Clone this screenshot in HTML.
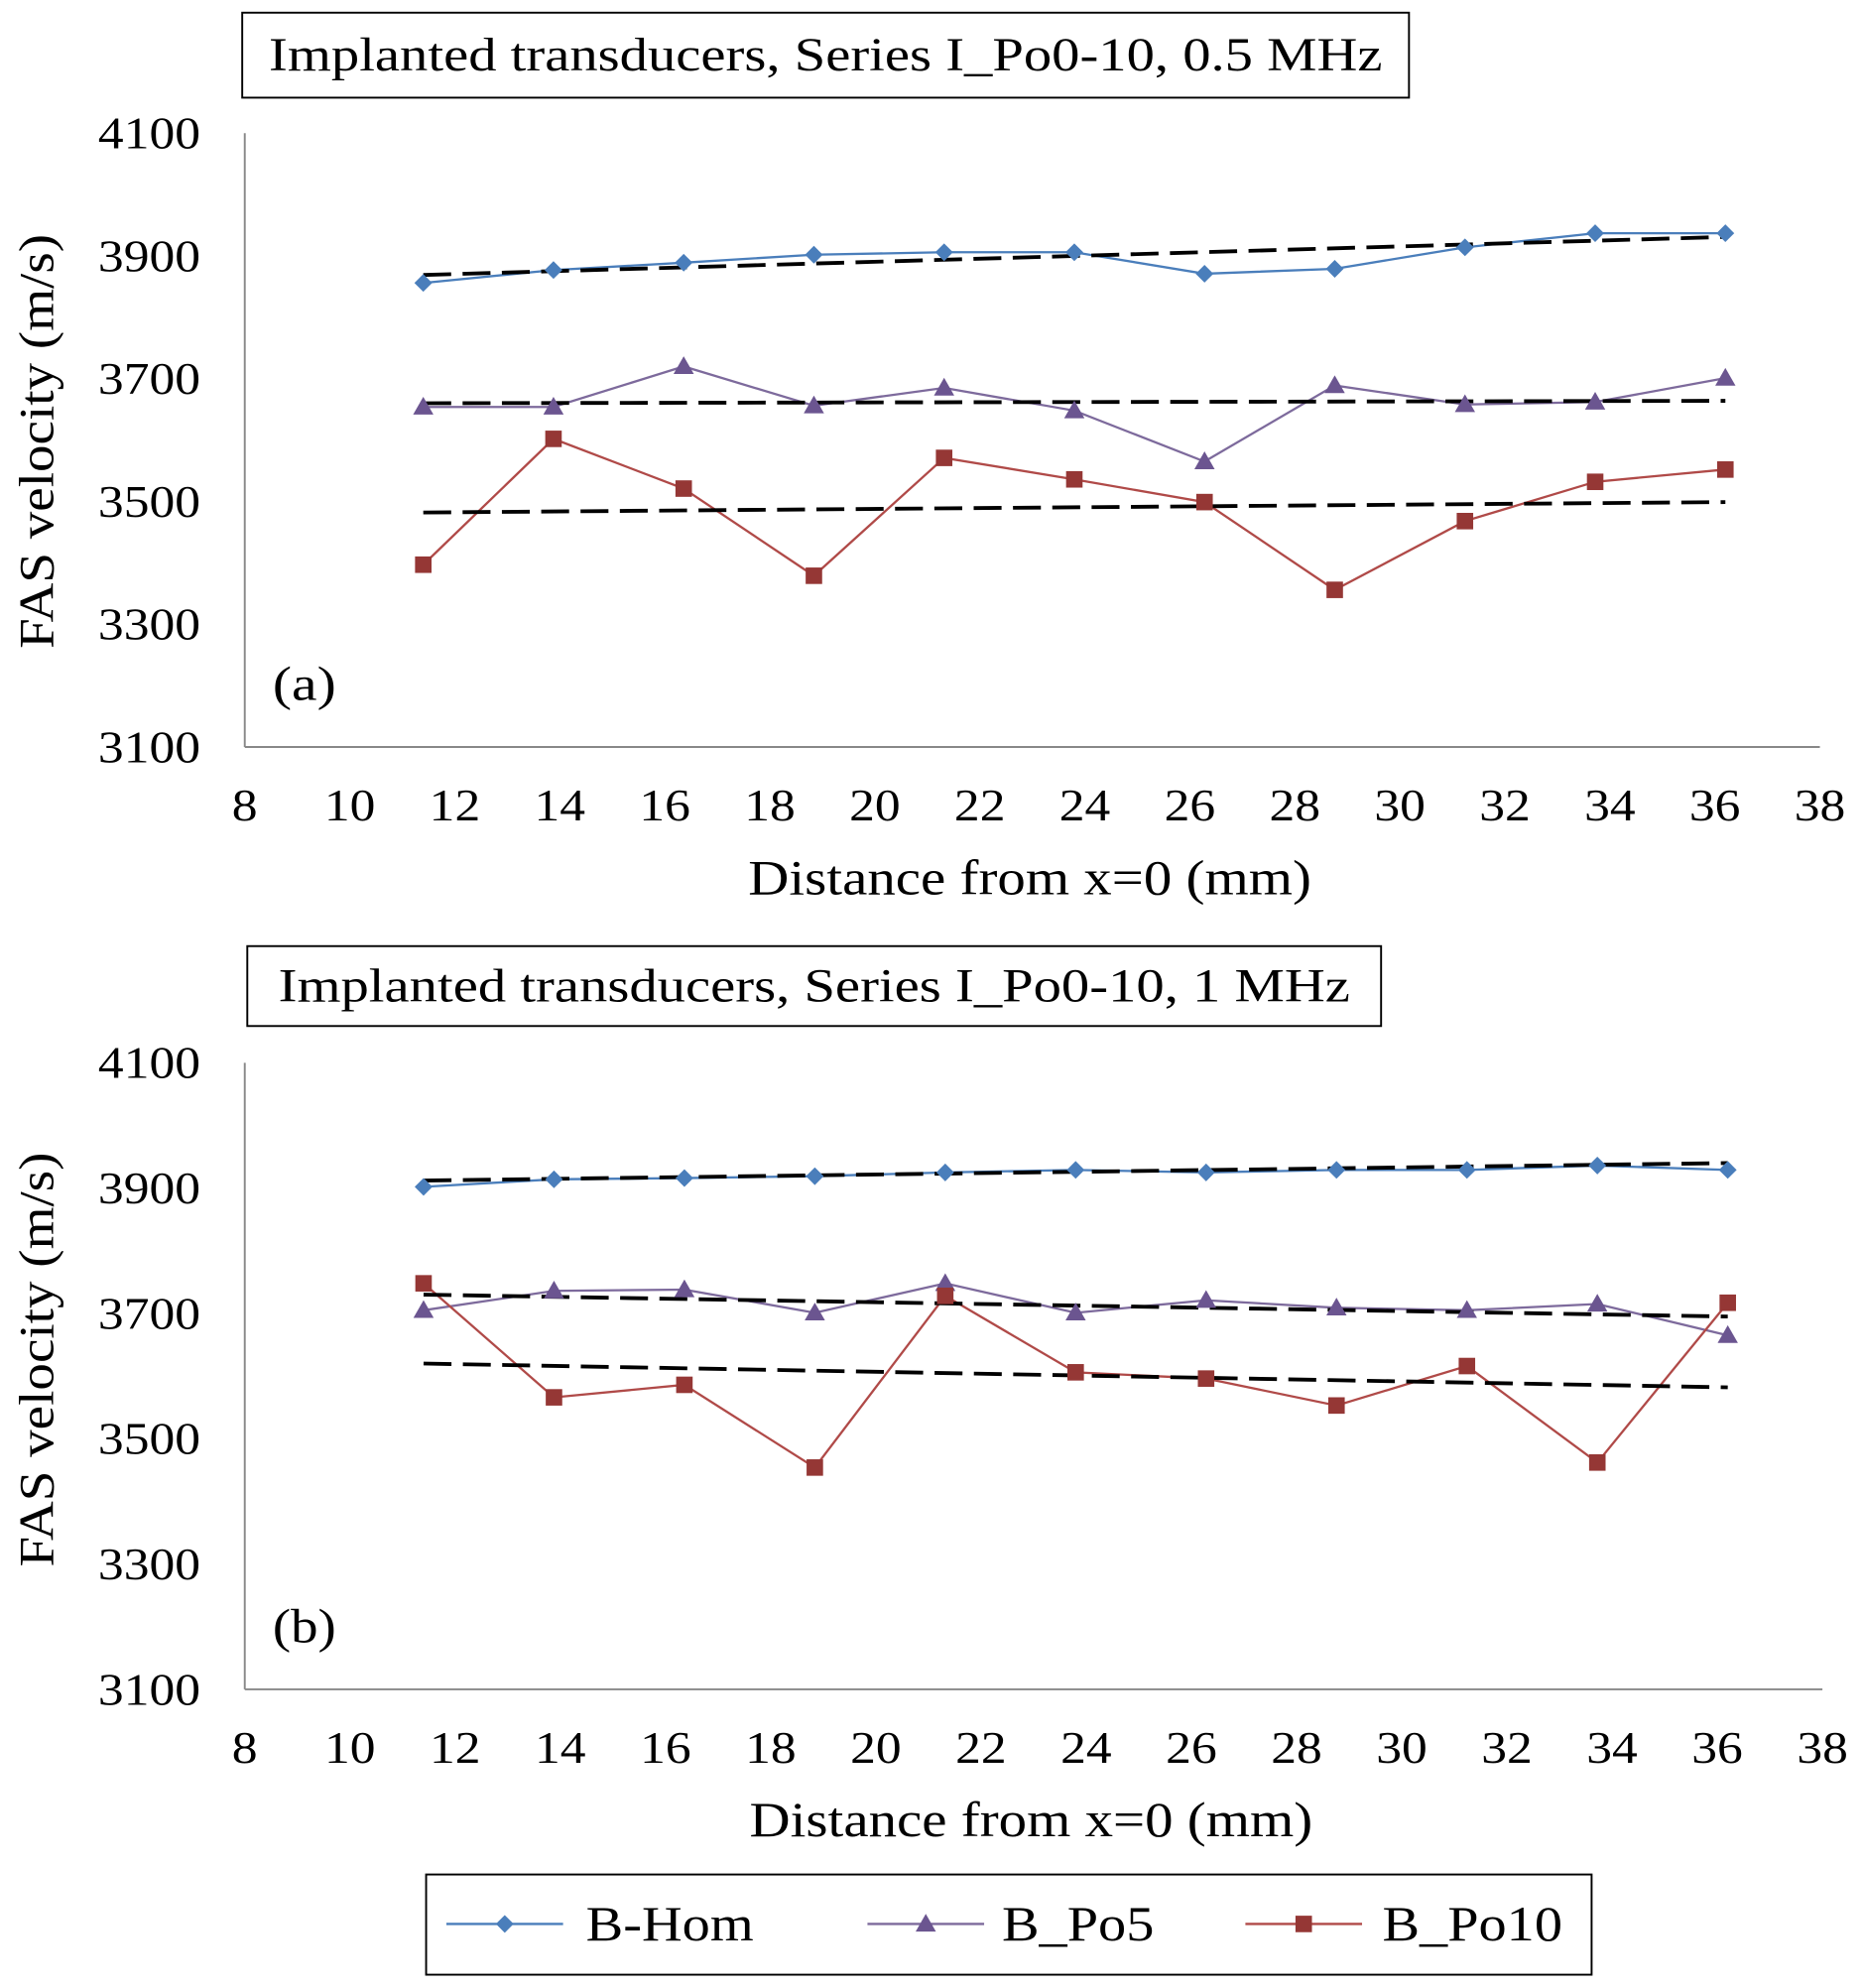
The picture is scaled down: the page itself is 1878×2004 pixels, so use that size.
<!DOCTYPE html>
<html><head><meta charset="utf-8"><style>
html,body{margin:0;padding:0;background:#fff;}
svg{display:block;font-family:"Liberation Serif",serif;}
</style></head><body>
<svg id="chart" width="1878" height="2004" viewBox="0 0 1469 1567.5" preserveAspectRatio="none" xmlns="http://www.w3.org/2000/svg"></svg>
<script>
const xPositions = [11.4,13.88,16.36,18.84,21.32,23.8,26.28,28.76,31.24,33.72,36.2];
const xTicks = [8,10,12,14,16,18,20,22,24,26,28,30,32,34,36,38];
const yTicks = [3100,3300,3500,3700,3900,4100];
const seriesNames = ["B-Hom","B_Po5","B_Po10"];
const aHom = [3856,3877,3889,3902,3906,3906,3871,3879,3914,3937,3937];
const aPo5 = [3654,3654,3720,3656,3685,3648,3565,3689,3658,3662,3701];
const aPo10 = [3397,3602,3521,3379,3571,3536,3499,3356,3468,3532,3552];
const aTrendHom = [3869,3931];
const aTrendPo5 = [3660,3664];
const aTrendPo10 = [3482,3499];
const bHom = [3902,3914,3916,3919,3925,3929,3925,3929,3929,3936,3929];
const bPo5 = [3705,3736,3738,3701,3748,3701,3721,3709,3705,3715,3665];
const bPo10 = [3748,3566,3586,3454,3728,3606,3596,3553,3616,3462,3717];
const bTrendHom = [3912,3940];
const bTrendPo5 = [3730,3695];
const bTrendPo10 = [3620,3582];

const NS="http://www.w3.org/2000/svg";
const svg=document.getElementById('chart');
function mk(tag,attrs,parent,text){const e=document.createElementNS(NS,tag);for(const k in attrs)e.setAttribute(k,attrs[k]);if(text!==undefined)e.textContent=text;(parent||svg).appendChild(e);return e;}
function stretch(e,f){const w=e.getComputedTextLength();e.setAttribute('textLength',(w*f).toFixed(1));e.setAttribute('lengthAdjust','spacingAndGlyphs');}
const colors={line:["#4a7ebb","#7d6a9c","#b04a48"],mark:["#4a7ebb","#6b5590","#953735"]};

function marker(g,kind,x,y){
  let m;
  if(kind===0){m=mk('polygon',{points:`${x},${y-7} ${x+7},${y} ${x},${y+7} ${x-7},${y}`,fill:colors.mark[0]},g);}
  else if(kind===1){m=mk('polygon',{points:`${x},${y-8} ${x+8},${y+6} ${x-8},${y+6}`,fill:colors.mark[1]},g);}
  else{m=mk('rect',{x:x-6.5,y:y-6.5,width:13,height:13,fill:colors.mark[2]},g);}
  
  
}

function panel(cfg){
  const g=mk('g',{});
  
  
  const X=v=>cfg.x0+(v-8)*(cfg.x1-cfg.x0)/30;
  const Y=v=>cfg.yb-(v-3100)*(cfg.yb-cfg.yt)/1000;
  const box=mk('rect',{x:cfg.tb[0],y:cfg.tb[1],width:cfg.tb[2],height:cfg.tb[3],fill:'#fff',stroke:'#000','stroke-width':1.5},g);
  
  const t=mk('text',{x:cfg.tb[0]+cfg.tb[2]/2,y:cfg.tb[1]+cfg.tb[3]/2+12,'text-anchor':'middle','font-size':37,textLength:cfg.tw,lengthAdjust:'spacingAndGlyphs'},g,cfg.title);
  
  mk('line',{x1:cfg.x0,y1:cfg.yt,x2:cfg.x0,y2:cfg.yb,stroke:'#888','stroke-width':1.5},g);
  mk('line',{x1:cfg.x0,y1:cfg.yb,x2:cfg.x1,y2:cfg.yb,stroke:'#888','stroke-width':1.5},g);
  yTicks.forEach(v=>{const e=mk('text',{x:cfg.x0-35,y:Y(v)+12,'text-anchor':'end','font-size':36},g,v);
    stretch(e,1.12);
    });
  xTicks.forEach(v=>{const e=mk('text',{x:X(v),y:cfg.yb+58,'text-anchor':'middle','font-size':36},g,v);
    stretch(e,1.12);
    });
  const xt=mk('text',{x:(cfg.x0+cfg.x1)/2-2,y:cfg.yb+116,'text-anchor':'middle','font-size':39,textLength:444,lengthAdjust:'spacingAndGlyphs'},g,'Distance from x=0 (mm)');
  
  const yc=cfg.yc;
  const yt=mk('text',{x:42,y:yc,'text-anchor':'middle','font-size':39,textLength:327,lengthAdjust:'spacingAndGlyphs',transform:`rotate(-90 42 ${yc})`},g,'FAS velocity (m/s)');
  
  const pl=mk('text',{x:cfg.x0+22,y:cfg.yb-37,'font-size':38,textLength:50,lengthAdjust:'spacingAndGlyphs'},g,cfg.label);
  
  cfg.series.forEach((s,k)=>{
    const pts=s.map((v,i)=>X(xPositions[i])+','+Y(v)).join(' ');
    const l=mk('polyline',{points:pts,fill:'none',stroke:colors.line[k],'stroke-width':1.8},g);
    
  });
  cfg.trends.forEach((tr,k)=>{
    const l=mk('line',{x1:X(xPositions[0]),y1:Y(tr[0]),x2:X(xPositions[xPositions.length-1]),y2:Y(tr[1]),stroke:'#000','stroke-width':3,'stroke-dasharray':'22 9'},g);
    
  });
  cfg.series.forEach((s,k)=>s.forEach((v,i)=>marker(g,k,X(xPositions[i]),Y(v))));
}
panel({name:'panel-a',x0:193,x1:1435,yt:105,yb:589,yc:348,tb:[191,10,920,67],tw:878,title:'Implanted transducers, Series I_Po0-10, 0.5 MHz',label:'(a)',
  series:[aHom,aPo5,aPo10],trends:[aTrendHom,aTrendPo5,aTrendPo10]});
panel({name:'panel-b',x0:193,x1:1437,yt:838,yb:1332,yc:1072,tb:[195,746,894,63],tw:845,title:'Implanted transducers, Series I_Po0-10, 1 MHz',label:'(b)',
  series:[bHom,bPo5,bPo10],trends:[bTrendHom,bTrendPo5,bTrendPo10]});

const lg=mk('g',{});


mk('rect',{x:336,y:1478,width:919,height:79,fill:'#fff',stroke:'#000','stroke-width':1.5},lg);
const lx=[[352,462],[684,790],[982,1090]];
seriesNames.forEach((n,k)=>{
  const e=mk('g',{},lg);
  
  
  mk('line',{x1:lx[k][0],y1:1517,x2:lx[k][0]+92,y2:1517,stroke:colors.line[k],'stroke-width':1.8},e);
  marker(e,k,lx[k][0]+46,1517);
  const t=mk('text',{x:lx[k][1],y:1530,'font-size':39},e,n);
  stretch(t,1.13);
});
</script>
</body></html>
